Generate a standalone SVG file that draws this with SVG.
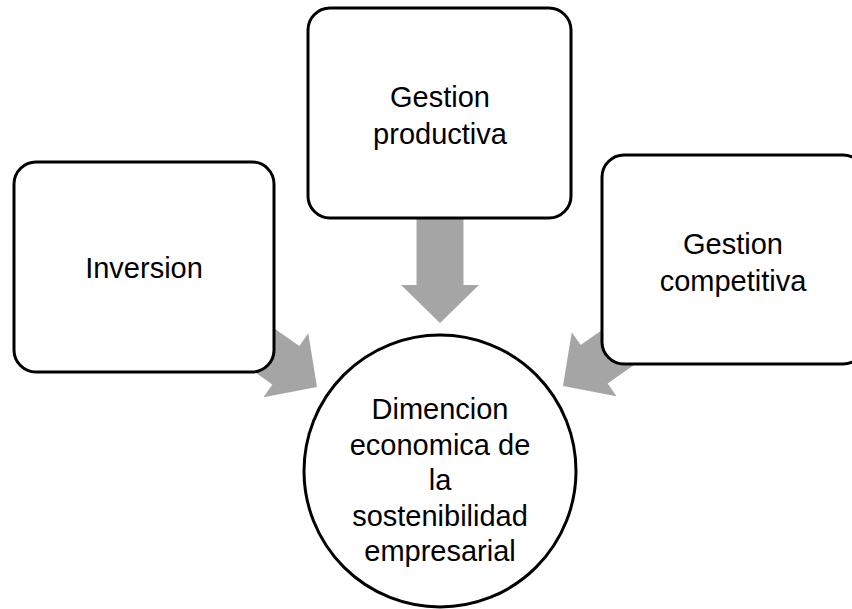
<svg xmlns="http://www.w3.org/2000/svg" width="852" height="609" viewBox="0 0 852 609">
<defs>
<style>
.box{fill:#fff;stroke:#000;stroke-width:3}
.arr{fill:#a5a5a5}
.t{font-family:"Liberation Sans",Arial,sans-serif;font-size:29px;fill:#000;text-anchor:middle}
</style>
<polygon id="arrowShape" points="0,0 -38,-39 -38,-23.5 -105,-23.5 -105,23.5 -38,23.5 -38,39"/>
</defs>
<rect width="852" height="609" fill="#fff"/>
<g id="connectors">
<use href="#arrowShape" class="arr" transform="translate(440,323) rotate(90)"/>
<use href="#arrowShape" class="arr" transform="translate(317,387) rotate(35)"/>
<use href="#arrowShape" class="arr" transform="translate(563,386) rotate(145)"/>
</g>
<g id="node-gestion-productiva">
<rect class="box" x="308" y="8" width="263" height="210" rx="22"/>
<text class="t" x="440" y="107">Gestion</text>
<text class="t" x="440" y="144">productiva</text>
</g>
<g id="node-inversion">
<rect class="box" x="14" y="162" width="260" height="210" rx="22"/>
<text class="t" x="144" y="278">Inversion</text>
</g>
<g id="node-gestion-competitiva">
<rect class="box" x="602" y="155" width="263" height="209" rx="22"/>
<text class="t" x="733" y="254">Gestion</text>
<text class="t" x="733" y="291">competitiva</text>
</g>
<g id="node-dimencion">
<circle class="box" cx="440" cy="471" r="136"/>
<text class="t" x="440" y="419">Dimencion</text>
<text class="t" x="440" y="455">economica de</text>
<text class="t" x="440" y="490">la</text>
<text class="t" x="440" y="526">sostenibilidad</text>
<text class="t" x="440" y="561">empresarial</text>
</g>
</svg>
